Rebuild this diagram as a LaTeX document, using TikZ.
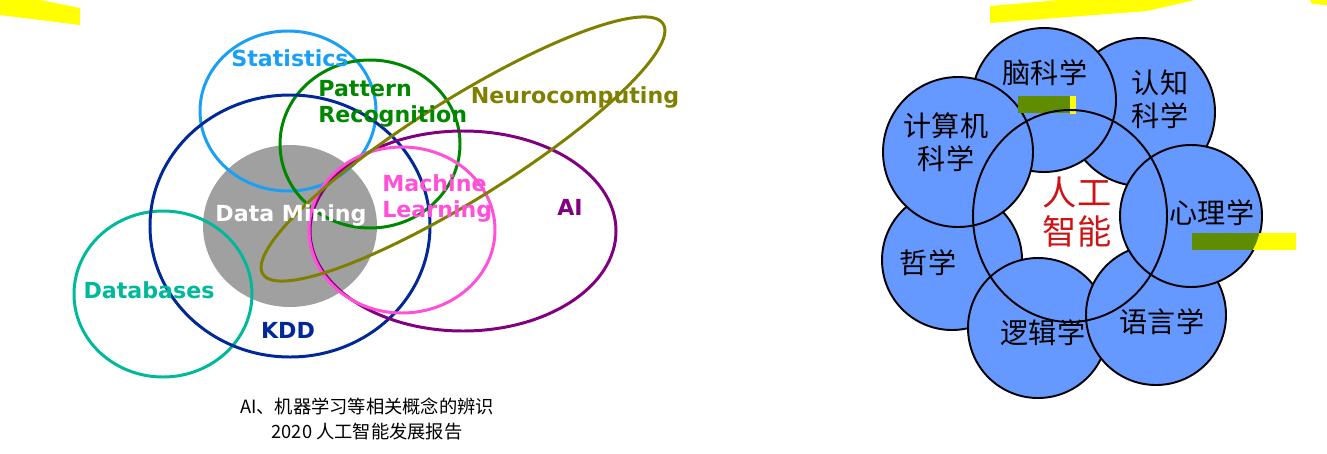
\documentclass[tikz,border=0pt]{standalone}
\usepackage{fontspec}
\setmainfont{DejaVu Sans}
\newfontfamily\cjk{Noto Sans CJK SC}
\definecolor{statc}{RGB}{25,160,245}
\definecolor{pattc}{RGB}{0,135,0}
\definecolor{neuroc}{RGB}{128,128,0}
\definecolor{machc}{RGB}{255,80,215}
\definecolor{aic}{RGB}{128,0,128}
\definecolor{kddc}{RGB}{0,40,150}
\definecolor{dbc}{RGB}{0,185,155}
\definecolor{dmc}{RGB}{160,160,160}
\definecolor{bubc}{RGB}{102,153,255}
\definecolor{redc}{RGB}{205,20,20}
\definecolor{hiyel}{RGB}{255,255,0}
\definecolor{higrn}{RGB}{95,140,0}

\begin{document}
\begin{tikzpicture}[x=0.02cm, y=-0.02cm,
    ring/.style={line width=1.7pt},
    lbl/.style={inner sep=0pt, font=\fontsize{12.6}{14.8}\selectfont\bfseries},
    bub/.style={fill=bubc, draw=black, line width=1.1pt},
    zh/.style={inner sep=0pt, align=center, font=\cjk\fontsize{16}{18.6}\selectfont}]
  \useasboundingbox (0,0) rectangle (1327,453);
  %% highlighter strokes
  \fill[hiyel] (0,0) -- (40,0) -- (80,8) -- (80,25) -- (0,15) -- cycle;
  \fill[hiyel] (990,6) -- (1060,0) -- (1195,0) -- (1147,11) -- (990,23) -- cycle;
  \fill[hiyel] (1310,0) -- (1327,0) -- (1327,5) -- (1312,4) -- cycle;
  %% Left: concept ellipses
  \fill[dmc] (290,226) ellipse [x radius=87, y radius=81];
  \draw[ring, dbc] (163,294) ellipse [x radius=89, y radius=83];
  \draw[ring, statc] (288,111) ellipse [x radius=88, y radius=80];
  \draw[ring, pattc] (370,144) ellipse [x radius=90, y radius=84];
  \draw[ring, kddc] (290,226) ellipse [x radius=140, y radius=131];
  \draw[ring, aic] (463,231) ellipse [x radius=153, y radius=100];
  \draw[ring, machc] (402,230) ellipse [x radius=93, y radius=83];
  \draw[ring, neuroc, rotate around={32:(463,149)}] (463,149) ellipse [x radius=236, y radius=50];
  \node[lbl, text=statc] (stat) at (290,58) {Statistics};
  \node[lbl, text=pattc, align=left, anchor=west] (patt) at (318,104) {Pattern\\Recognition};
  \node[lbl, text=neuroc] (neuro) at (575,97) {Neurocomputing};
  \node[lbl, text=machc, align=left, anchor=west] (mach) at (382,198) {Machine\\Learning};
  \node[lbl, text=aic] (ai) at (570,207) {AI};
  \node[lbl, text=white] (dm) at (291,215) {Data Mining};
  \node[lbl, text=dbc] (db) at (149,290) {Databases};
  \node[lbl, text=kddc] (kdd) at (288,330) {KDD};
  \node[inner sep=0pt, align=center, font=\cjk\fontsize{10.4}{14.2}\selectfont] (cap) at (367,419)
    {AI、机器学习等相关概念的辨识\\2020 人工智能发展报告};
  %% Right: disciplines round AI
  \draw[bub] (1141,112) circle [radius=74];
  \draw[bub] (952,260) circle [radius=70];
  \draw[bub] (1038,328) circle [radius=70];
  \draw[bub] (1156,315) circle [radius=70];
  \draw[bub] (1191,216) circle [radius=71];
  \draw[bub] (1044,100) circle [radius=72];
  \draw[bub] (958,152) circle [radius=75];
  \fill[higrn] (1018,96) rectangle (1070,113);
  \fill[hiyel] (1070,96) rectangle (1076,114);
  \fill[hiyel] (1192,233) rectangle (1296,250);
  \begin{scope}
    \clip (1191,216) circle [radius=70.5];
    \fill[higrn] (1192,233) rectangle (1296,250);
  \end{scope}
  \draw[line width=1.1pt] (1070,216) ellipse [x radius=97, y radius=106];
  \node[zh] (brain) at (1045,73) {脑科学};
  \node[zh] (cog) at (1160,99) {认知\\科学};
  \node[zh] (cs) at (946,142) {计算机\\科学};
  \node[zh] (psy) at (1212,213) {心理学};
  \node[zh] (phil) at (928,263) {哲学};
  \node[zh] (logic) at (1043,333) {逻辑学};
  \node[zh] (ling) at (1162,322) {语言学};
  \node[zh, text=redc, font=\cjk\fontsize{19.5}{22}\selectfont] (aizh) at (1077,212) {人工\\智能};
\end{tikzpicture}
\end{document}
